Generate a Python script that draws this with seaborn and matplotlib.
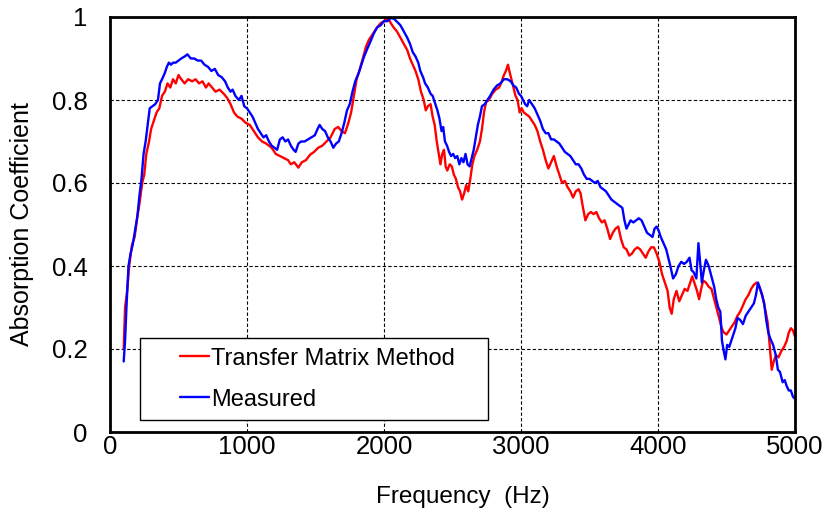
import matplotlib
matplotlib.use("Agg")
import matplotlib.pyplot as plt
from matplotlib.legend_handler import HandlerLine2D
import seaborn as sns
import pandas as pd

# ---- data ----
series_names = ["Transfer Matrix Method", "Measured"]

freq_tmm = [100, 110, 125, 140, 160, 180, 200, 215, 235, 250, 265, 285, 300, 320, 340, 360, 380, 400, 420, 440,
            460, 480, 500, 520, 545, 570, 600, 625, 650, 675, 700, 720, 745, 770, 800, 830, 855, 880, 905, 930,
            960, 990, 1020, 1040, 1060, 1080, 1110, 1140, 1180, 1210, 1240, 1270, 1300, 1320, 1345, 1375, 1400, 1430, 1460, 1490,
            1520, 1550, 1580, 1610, 1640, 1665, 1690, 1715, 1740, 1760, 1780, 1800, 1820, 1845, 1870, 1890, 1920, 1950, 1975, 2000,
            2030, 2050, 2070, 2095, 2120, 2145, 2170, 2190, 2210, 2230, 2250, 2270, 2290, 2305, 2320, 2340, 2355, 2370, 2385, 2400,
            2412, 2425, 2438, 2450, 2462, 2480, 2495, 2510, 2525, 2540, 2555, 2570, 2585, 2600, 2615, 2630, 2645, 2660, 2680, 2700,
            2715, 2730, 2745, 2765, 2790, 2815, 2840, 2860, 2875, 2890, 2905, 2915, 2930, 2945, 2960, 2975, 2990, 3005, 3020, 3040,
            3060, 3080, 3100, 3120, 3140, 3160, 3180, 3200, 3220, 3240, 3260, 3280, 3300, 3320, 3340, 3360, 3380, 3400, 3420, 3435,
            3450, 3470, 3490, 3510, 3530, 3550, 3570, 3590, 3610, 3630, 3650, 3670, 3690, 3710, 3730, 3750, 3770, 3790, 3810, 3830,
            3850, 3870, 3890, 3910, 3930, 3950, 3970, 3990, 4010, 4030, 4050, 4070, 4085, 4100, 4115, 4135, 4155, 4175, 4195, 4215,
            4235, 4250, 4265, 4285, 4300, 4315, 4330, 4350, 4370, 4390, 4410, 4430, 4450, 4465, 4480, 4500, 4520, 4540, 4560, 4580,
            4600, 4620, 4640, 4660, 4680, 4700, 4720, 4740, 4760, 4780, 4800, 4815, 4830, 4845, 4860, 4880, 4900, 4920, 4940, 4955,
            4970, 4985, 5000]
alpha_tmm = [0.20, 0.30, 0.34, 0.40, 0.45, 0.47, 0.52, 0.55, 0.60, 0.62, 0.67, 0.70, 0.73, 0.75, 0.77, 0.78, 0.81, 0.82, 0.84, 0.83,
             0.85, 0.84, 0.86, 0.85, 0.84, 0.85, 0.845, 0.85, 0.84, 0.845, 0.83, 0.84, 0.83, 0.82, 0.825, 0.815, 0.805, 0.79, 0.77, 0.76,
             0.755, 0.745, 0.74, 0.73, 0.72, 0.71, 0.70, 0.695, 0.685, 0.67, 0.665, 0.66, 0.655, 0.645, 0.65, 0.637, 0.65, 0.655, 0.668, 0.675,
             0.685, 0.69, 0.70, 0.71, 0.73, 0.735, 0.725, 0.72, 0.745, 0.77, 0.81, 0.85, 0.87, 0.90, 0.93, 0.945, 0.96, 0.975, 0.985, 0.99,
             0.997, 0.985, 0.975, 0.965, 0.95, 0.935, 0.92, 0.90, 0.885, 0.87, 0.85, 0.82, 0.80, 0.775, 0.785, 0.79, 0.76, 0.74, 0.70, 0.67,
             0.645, 0.67, 0.68, 0.64, 0.63, 0.645, 0.64, 0.62, 0.61, 0.59, 0.58, 0.56, 0.575, 0.595, 0.58, 0.61, 0.645, 0.665, 0.68, 0.70,
             0.73, 0.77, 0.795, 0.80, 0.815, 0.825, 0.83, 0.845, 0.86, 0.87, 0.885, 0.87, 0.85, 0.83, 0.81, 0.80, 0.77, 0.78, 0.77, 0.765,
             0.76, 0.75, 0.74, 0.725, 0.70, 0.68, 0.655, 0.635, 0.65, 0.665, 0.64, 0.62, 0.60, 0.605, 0.59, 0.58, 0.565, 0.58, 0.585, 0.575,
             0.545, 0.51, 0.525, 0.53, 0.525, 0.53, 0.515, 0.505, 0.51, 0.49, 0.465, 0.48, 0.49, 0.495, 0.465, 0.445, 0.44, 0.425, 0.43, 0.44,
             0.445, 0.44, 0.43, 0.42, 0.435, 0.445, 0.445, 0.43, 0.41, 0.38, 0.36, 0.34, 0.30, 0.285, 0.32, 0.34, 0.315, 0.33, 0.345, 0.34,
             0.36, 0.375, 0.36, 0.34, 0.32, 0.345, 0.365, 0.36, 0.35, 0.345, 0.32, 0.295, 0.27, 0.25, 0.24, 0.235, 0.245, 0.255, 0.265, 0.28,
             0.29, 0.305, 0.32, 0.33, 0.345, 0.355, 0.36, 0.35, 0.33, 0.30, 0.265, 0.21, 0.15, 0.17, 0.185, 0.18, 0.195, 0.205, 0.22, 0.24,
             0.25, 0.245, 0.23]

freq_meas = [100, 110, 120, 135, 150, 165, 180, 200, 215, 230, 245, 260, 275, 290, 310, 330, 350, 365, 380, 400,
             415, 430, 445, 460, 480, 500, 520, 545, 565, 590, 615, 640, 665, 690, 715, 740, 765, 790, 815, 840,
             860, 880, 895, 915, 940, 960, 980, 1000, 1020, 1040, 1060, 1080, 1100, 1120, 1140, 1160, 1180, 1200, 1220, 1240,
             1260, 1280, 1300, 1320, 1340, 1355, 1375, 1395, 1420, 1445, 1470, 1495, 1515, 1530, 1550, 1570, 1590, 1610, 1630, 1650,
             1670, 1690, 1710, 1730, 1750, 1770, 1790, 1815, 1835, 1855, 1880, 1900, 1925, 1950, 1975, 2000, 2025, 2050, 2075, 2100,
             2120, 2145, 2170, 2190, 2210, 2230, 2250, 2265, 2285, 2300, 2320, 2340, 2355, 2375, 2390, 2405, 2420, 2432, 2445, 2460,
             2475, 2490, 2505, 2520, 2535, 2550, 2565, 2580, 2595, 2610, 2625, 2640, 2655, 2670, 2685, 2700, 2715, 2735, 2755, 2775,
             2800, 2825, 2850, 2875, 2900, 2925, 2945, 2965, 2985, 3000, 3015, 3030, 3045, 3060, 3080, 3100, 3120, 3140, 3160, 3180,
             3200, 3220, 3240, 3260, 3280, 3300, 3320, 3340, 3360, 3380, 3400, 3420, 3440, 3460, 3480, 3500, 3520, 3540, 3560, 3580,
             3600, 3620, 3640, 3660, 3680, 3700, 3720, 3740, 3755, 3770, 3785, 3800, 3820, 3840, 3860, 3880, 3900, 3920, 3940, 3960,
             3975, 3990, 4005, 4020, 4040, 4060, 4075, 4090, 4110, 4130, 4150, 4170, 4190, 4210, 4230, 4245, 4260, 4280, 4295, 4310,
             4320, 4335, 4350, 4370, 4390, 4410, 4425, 4440, 4455, 4467, 4480, 4492, 4505, 4520, 4535, 4550, 4565, 4580, 4600, 4620,
             4640, 4660, 4680, 4700, 4715, 4730, 4745, 4760, 4775, 4790, 4805, 4820, 4840, 4860, 4875, 4890, 4910, 4925, 4940, 4955,
             4970, 4985, 5000]
alpha_meas = [0.17, 0.22, 0.30, 0.40, 0.43, 0.45, 0.48, 0.52, 0.57, 0.61, 0.67, 0.70, 0.74, 0.78, 0.785, 0.79, 0.80, 0.84, 0.85, 0.865,
              0.88, 0.89, 0.885, 0.89, 0.89, 0.895, 0.90, 0.905, 0.91, 0.90, 0.90, 0.895, 0.895, 0.885, 0.88, 0.87, 0.875, 0.86, 0.855, 0.845,
              0.83, 0.82, 0.825, 0.81, 0.80, 0.81, 0.785, 0.78, 0.77, 0.76, 0.745, 0.73, 0.72, 0.71, 0.715, 0.70, 0.69, 0.685, 0.68, 0.705,
              0.71, 0.70, 0.705, 0.69, 0.68, 0.675, 0.695, 0.70, 0.70, 0.705, 0.71, 0.715, 0.73, 0.74, 0.73, 0.725, 0.71, 0.70, 0.685, 0.695,
              0.70, 0.72, 0.745, 0.775, 0.79, 0.82, 0.845, 0.865, 0.885, 0.905, 0.925, 0.94, 0.96, 0.975, 0.98, 0.99, 0.99, 0.998, 0.995, 0.987,
              0.98, 0.965, 0.95, 0.935, 0.915, 0.905, 0.89, 0.87, 0.855, 0.84, 0.83, 0.815, 0.81, 0.79, 0.775, 0.755, 0.725, 0.735, 0.70, 0.69,
              0.675, 0.665, 0.67, 0.66, 0.665, 0.645, 0.66, 0.65, 0.67, 0.645, 0.64, 0.66, 0.68, 0.71, 0.74, 0.76, 0.785, 0.79, 0.80, 0.81,
              0.825, 0.835, 0.84, 0.85, 0.85, 0.845, 0.835, 0.83, 0.815, 0.81, 0.80, 0.79, 0.785, 0.80, 0.79, 0.78, 0.765, 0.75, 0.73, 0.72,
              0.72, 0.705, 0.705, 0.70, 0.695, 0.685, 0.675, 0.67, 0.665, 0.655, 0.645, 0.645, 0.635, 0.62, 0.61, 0.61, 0.605, 0.60, 0.605, 0.59,
              0.585, 0.58, 0.57, 0.56, 0.555, 0.55, 0.545, 0.54, 0.51, 0.49, 0.50, 0.51, 0.505, 0.51, 0.515, 0.51, 0.495, 0.48, 0.475, 0.47,
              0.49, 0.495, 0.485, 0.47, 0.455, 0.44, 0.42, 0.40, 0.37, 0.38, 0.40, 0.41, 0.405, 0.41, 0.42, 0.39, 0.385, 0.37, 0.455, 0.40,
              0.36, 0.39, 0.415, 0.40, 0.375, 0.35, 0.32, 0.30, 0.29, 0.22, 0.195, 0.175, 0.21, 0.205, 0.22, 0.235, 0.25, 0.275, 0.27, 0.26,
              0.28, 0.29, 0.30, 0.31, 0.33, 0.36, 0.345, 0.33, 0.31, 0.27, 0.24, 0.225, 0.21, 0.185, 0.15, 0.145, 0.12, 0.125, 0.11, 0.10,
              0.10, 0.085, 0.08]

x_ticks = [0, 1000, 2000, 3000, 4000, 5000]
y_ticks = [0, 0.2, 0.4, 0.6, 0.8, 1]
y_tick_labels = ["0", "0.2", "0.4", "0.6", "0.8", "1"]

# ---- build long-form table ----
df = pd.concat([
    pd.DataFrame({"Frequency": freq_tmm, "Alpha": alpha_tmm, "Series": series_names[0]}),
    pd.DataFrame({"Frequency": freq_meas, "Alpha": alpha_meas, "Series": series_names[1]}),
], ignore_index=True)

sns.set_theme(style="white")
plt.rcParams["font.family"] = ["Liberation Sans", "DejaVu Sans"]
plt.rcParams["text.color"] = "black"

fig = plt.figure(figsize=(8.27, 5.18), dpi=100)
ax = fig.add_axes([110 / 827, (518 - 432) / 518, 685 / 827, 415 / 518])

sns.lineplot(data=df, x="Frequency", y="Alpha", hue="Series", hue_order=series_names,
             palette=["#FF0000", "#0000FF"], linewidth=1.7, estimator=None, sort=False, ax=ax)

ax.set_xlim(0, 5000)
ax.set_ylim(0, 1)
ax.set_xticks(x_ticks)
ax.set_xticklabels([str(t) for t in x_ticks])
ax.set_yticks(y_ticks)
ax.set_yticklabels(y_tick_labels)
ax.tick_params(axis="both", length=0, labelsize=18.5, colors="black")
ax.tick_params(axis="y", pad=16)
ax.tick_params(axis="x", pad=2)
ax.grid(True, color="black", linestyle=(0, (3, 2)), linewidth=0.8)
ax.set_axisbelow(True)
for s in ax.spines.values():
    s.set_visible(True)
    s.set_color("black")
    s.set_linewidth(2)

ax.set_xlabel("Frequency  (Hz)", fontsize=17.5, color="black")
ax.set_ylabel("Absorption Coefficient", fontsize=18, color="black")
ax.xaxis.set_label_coords((463 - 110) / 685, -(497 - 432) / 415)
ax.yaxis.set_label_coords(-(110 - 22) / 685, 0.5)
ax.xaxis.label.set_va("center")
ax.yaxis.label.set_va("center")


class RightLineHandler(HandlerLine2D):
    def get_xdata(self, legend, xdescent, ydescent, width, height, fontsize):
        xd = [-xdescent + width * 0.52, -xdescent + width]
        return xd, xd


h, l = ax.get_legend_handles_labels()
leg = ax.legend(h, l, loc="lower left", bbox_to_anchor=(0.044, 0.029, 0.508, 0.205), mode="expand",
                frameon=True, fancybox=False, fontsize=17, handlelength=2.5, handletextpad=0.1,
                labelspacing=0.8, borderpad=0.4, borderaxespad=0,
                handler_map={type(h[0]): RightLineHandler()})
leg.get_frame().set_edgecolor("black")
leg.get_frame().set_linewidth(1.0)
leg.get_frame().set_facecolor("white")
leg.get_frame().set_alpha(1)
for t in leg.get_texts():
    t.set_color("black")
for line in leg.get_lines():
    line.set_linewidth(1.7)

fig.savefig("out.png", dpi=100)
